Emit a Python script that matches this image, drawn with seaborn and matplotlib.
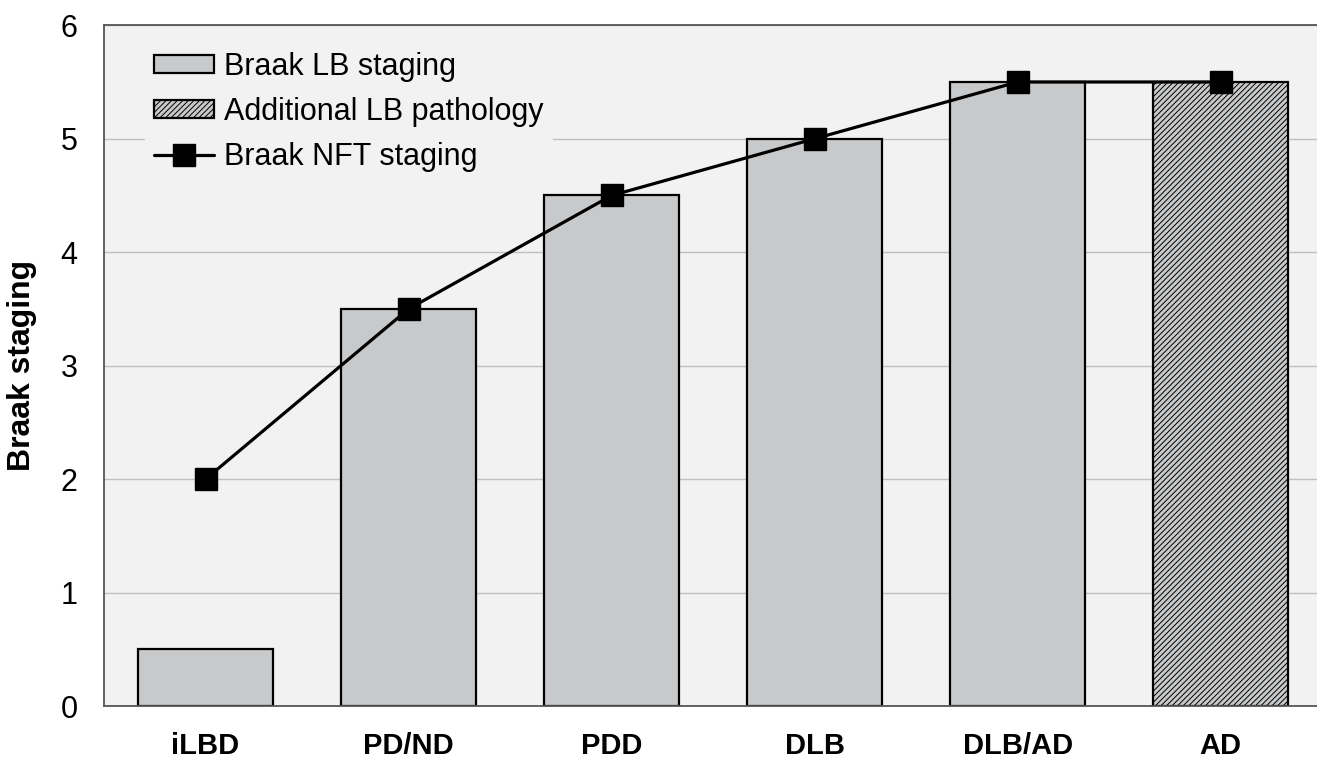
import pandas as pd
import numpy as np
import matplotlib
matplotlib.use("Agg")
import matplotlib.pyplot as plt
import seaborn as sns
from matplotlib.patches import Patch
from matplotlib.lines import Line2D

# ── data ──────────────────────────────────────────────────────
groups = ["iLBD", "PD/ND", "PDD", "DLB", "DLB/AD", "AD"]
lb_stage = [0.5, 3.5, 4.5, 5.0, 5.5, 5.5]
nft_stage = [2.0, 3.5, 4.5, 5.0, 5.5, 5.5]
additional = [False, False, False, False, False, True]   # AD bar = additional LB pathology

df = pd.DataFrame({"group": groups, "lb": lb_stage, "nft": nft_stage, "extra": additional})

sns.set_style("white")
plt.rcParams["font.family"] = ["Liberation Sans", "DejaVu Sans"]
plt.rcParams["text.color"] = "black"
plt.rcParams["axes.labelcolor"] = "black"
plt.rcParams["hatch.color"] = "#505050"
plt.rcParams["hatch.linewidth"] = 0.7

fig = plt.figure(figsize=(13.17, 7.65), dpi=100)
ax = fig.add_axes([0.079, 0.077, 0.925, 0.89])
ax.set_facecolor("#f2f2f2")

bar_fill = "#c8c9cb"
sns.barplot(data=df, x="group", y="lb", color=bar_fill, width=0.665,
            edgecolor="black", linewidth=1.6, saturation=1, ax=ax, zorder=2)

# hatch the "additional LB pathology" bar
for patch, extra in zip(ax.patches, df["extra"]):
    if extra:
        patch.set_hatch("//////")

ax.plot(np.arange(len(groups)), df["nft"], color="black", lw=2.3,
        marker="s", markersize=16, zorder=4)

# grid + axes styling
ax.set_ylim(0, 6)
ax.set_xlim(-0.5, 5.5)
ax.set_yticks(range(0, 7))
ax.yaxis.grid(True, color="#c0c0c0", lw=1.0, zorder=0)
ax.set_axisbelow(True)
for side in ["left", "bottom", "top"]:
    ax.spines[side].set_color("#555555")
    ax.spines[side].set_linewidth(1.3)
ax.spines["right"].set_visible(False)
ax.tick_params(axis="y", direction="in", length=7, width=1, colors="#333333",
               labelcolor="black", labelsize=22, pad=19)
ax.tick_params(axis="x", length=0, labelsize=21, pad=19, labelcolor="black")
for lbl in ax.get_xticklabels():
    lbl.set_fontweight("bold")

ax.set_xlabel("")
ax.set_ylabel("Braak staging", fontsize=23, fontweight="bold", labelpad=17)

handles = [
    Patch(facecolor=bar_fill, edgecolor="black", linewidth=1.6, label="Braak LB staging"),
    Patch(facecolor=bar_fill, edgecolor="black", linewidth=1.6, hatch="//////",
          label="Additional LB pathology"),
    Line2D([0], [0], color="black", lw=2.3, marker="s", markersize=16,
           label="Braak NFT staging"),
]
leg = ax.legend(handles=handles, loc="upper left", bbox_to_anchor=(0.021, 0.997),
                fontsize=22, frameon=True, facecolor="#f2f2f2", edgecolor="none",
                framealpha=1, handlelength=1.95, handleheight=0.52, handletextpad=0.35,
                labelspacing=0.5, borderpad=0.3)

fig.savefig("out.png", dpi=100)
